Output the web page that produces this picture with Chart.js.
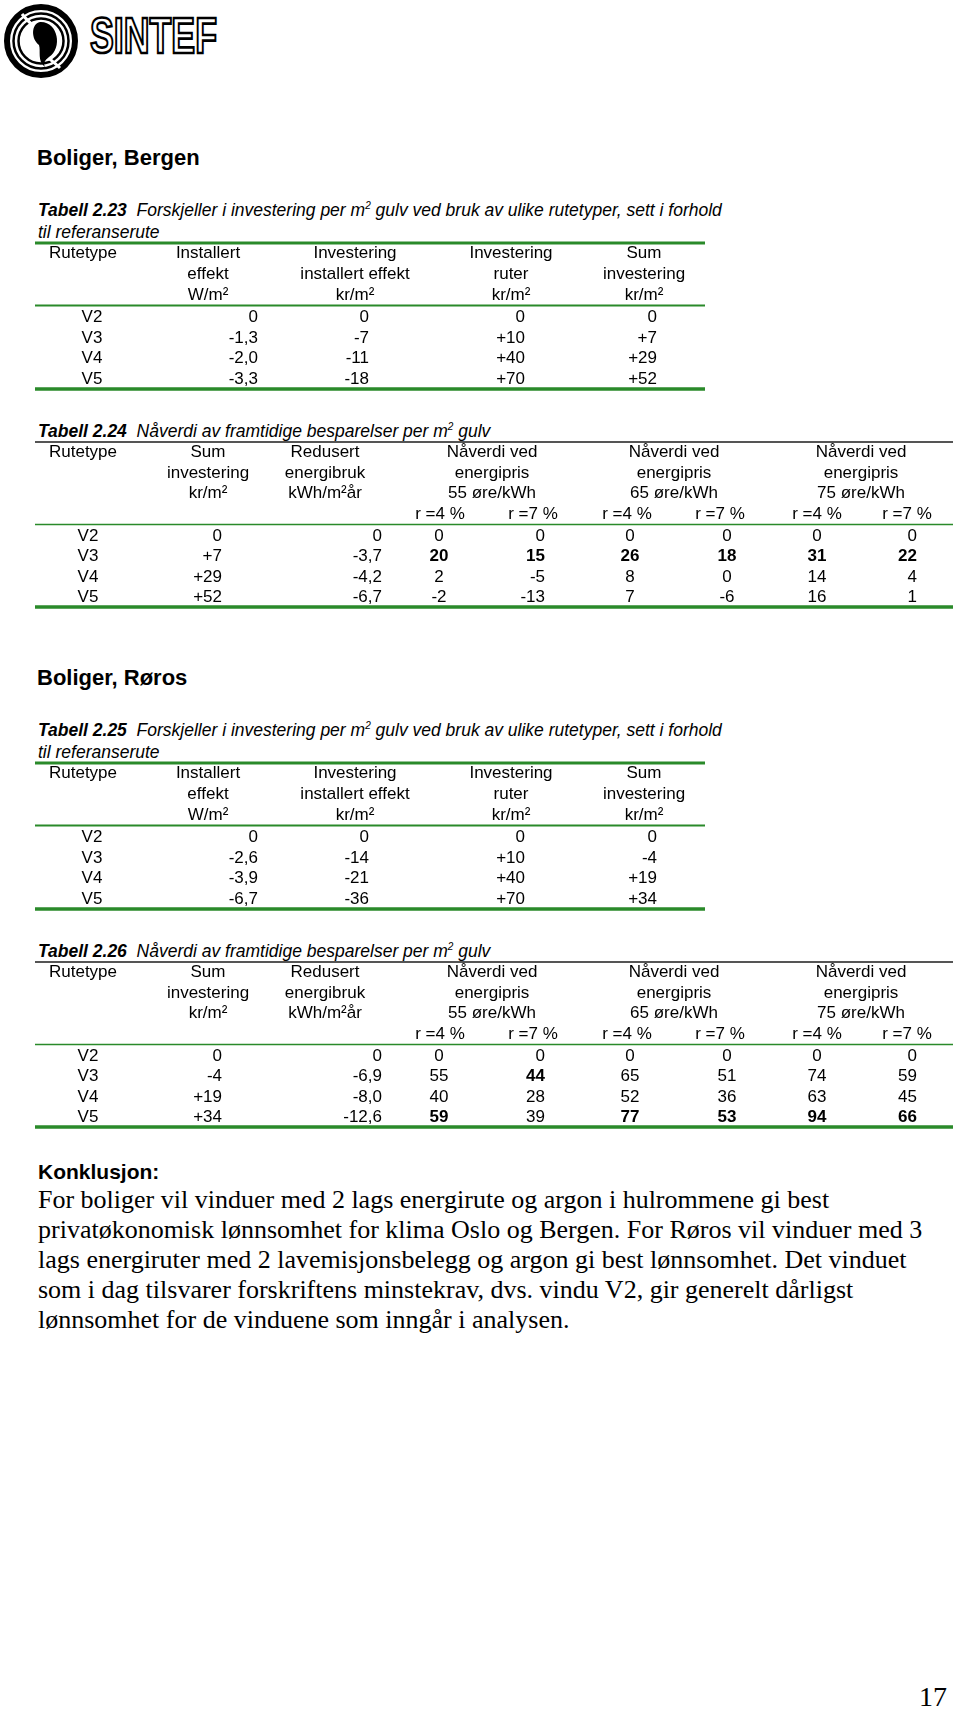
<!DOCTYPE html>
<html>
<head>
<meta charset="utf-8">
<script src="https://cdn.jsdelivr.net/npm/chart.js@4.4.1/dist/chart.umd.min.js"></script>
<style>
  html, body { margin: 0; padding: 0; background: #fff; }
  #page { position: relative; width: 960px; height: 1709px; overflow: hidden; color: #000; }
  .abs { position: absolute; white-space: nowrap; }
  .h { font: bold 22px/1 "Liberation Sans", Arial, sans-serif; left: 37px; }
  .cap { font: italic 17.5px/22px "Liberation Sans", Arial, sans-serif; left: 38px; }
  .cap b { font-weight: bold; }
  sup { font-size: 10px; line-height: 0; vertical-align: 7px; }
  .para { font: 26px/30px "Liberation Serif", "Times New Roman", serif; left: 38px; }
  canvas { position: absolute; left: 0; }
</style>
</head>
<body>
<div id="page">
  <svg class="abs" style="left:0;top:0" width="230" height="85" viewBox="0 0 230 85">
    <circle cx="41" cy="41" r="34" fill="none" stroke="#000" stroke-width="6"/>
    <circle cx="41" cy="41" r="27.5" fill="none" stroke="#000" stroke-width="2.5"/>
    <circle cx="41" cy="41" r="22.5" fill="none" stroke="#000" stroke-width="2.5"/>
    <path d="M22 14 C34 30 48 32 41 41 C34 50 48 56 60 68" fill="none" stroke="#fff" stroke-width="3"/>
    <path d="M40 22 C58 21 63 48 49 57 C45 60 43 63 45 67 C37 61 41 51 39 45 C31 39 31 24 40 22 Z" fill="#000"/>
    <text x="90" y="53" font-family="Liberation Sans, Arial, sans-serif" font-weight="bold" font-size="50"
          textLength="127" lengthAdjust="spacingAndGlyphs" fill="#fff" stroke="#000" stroke-width="2.6">SINTEF</text>
  </svg>

  <div class="abs h" style="top:147px">Boliger, Bergen</div>
  <div class="abs cap" style="top:199px"><b>Tabell 2.23</b>&nbsp; Forskjeller i investering per m<sup>2</sup> gulv ved bruk av ulike rutetyper, sett i forhold<br>til referanserute</div>
  <canvas id="t223" width="960" height="154" style="top:239px"></canvas>

  <div class="abs cap" style="top:420px"><b>Tabell 2.24</b>&nbsp; Nåverdi av framtidige besparelser per m<sup>2</sup> gulv</div>
  <canvas id="t224" width="960" height="173" style="top:438px"></canvas>

  <div class="abs h" style="top:667px">Boliger, Røros</div>
  <div class="abs cap" style="top:719px"><b>Tabell 2.25</b>&nbsp; Forskjeller i investering per m<sup>2</sup> gulv ved bruk av ulike rutetyper, sett i forhold<br>til referanserute</div>
  <canvas id="t225" width="960" height="154" style="top:759px"></canvas>

  <div class="abs cap" style="top:940px"><b>Tabell 2.26</b>&nbsp; Nåverdi av framtidige besparelser per m<sup>2</sup> gulv</div>
  <canvas id="t226" width="960" height="173" style="top:958px"></canvas>

  <div class="abs h" style="top:1161px;left:38px;font-size:21px">Konklusjon:</div>
  <div class="abs para" style="top:1185px">
    <div>For boliger vil vinduer med 2 lags energirute og argon i hulrommene gi best</div>
    <div>privatøkonomisk lønnsomhet for klima Oslo og Bergen. For Røros vil vinduer med 3</div>
    <div>lags energiruter med 2 lavemisjonsbelegg og argon gi best lønnsomhet. Det vinduet</div>
    <div>som i dag tilsvarer forskriftens minstekrav, dvs. vindu V2, gir generelt dårligst</div>
    <div>lønnsomhet for de vinduene som inngår i analysen.</div>
  </div>
  <div class="abs" style="right:13px;top:1683px;font:28px/1 'Liberation Serif', 'Times New Roman', serif">17</div>
</div>

<script>
// Data
const rutetyper = ['V2', 'V3', 'V4', 'V5'];
const prisNivaer = ['55 øre/kWh', '65 øre/kWh', '75 øre/kWh'];
const renter = ['r =4 %', 'r =7 %'];

// Bergen
const bergenEffekt = [0, -1.3, -2.0, -3.3];
const bergenInvEffekt = [0, -7, -11, -18];
const bergenInvRuter = [0, 10, 40, 70];
const bergenSumInv = [0, 7, 29, 52];
const bergenRedusert = [0, -3.7, -4.2, -6.7];
const bergenNv55r4 = [0, 20, 2, -2];
const bergenNv55r7 = [0, 15, -5, -13];
const bergenNv65r4 = [0, 26, 8, 7];
const bergenNv65r7 = [0, 18, 0, -6];
const bergenNv75r4 = [0, 31, 14, 16];
const bergenNv75r7 = [0, 22, 4, 1];

// Røros
const rorosEffekt = [0, -2.6, -3.9, -6.7];
const rorosInvEffekt = [0, -14, -21, -36];
const rorosInvRuter = [0, 10, 40, 70];
const rorosSumInv = [0, -4, 19, 34];
const rorosRedusert = [0, -6.9, -8.0, -12.6];
const rorosNv55r4 = [0, 55, 40, 59];
const rorosNv55r7 = [0, 44, 28, 39];
const rorosNv65r4 = [0, 65, 52, 77];
const rorosNv65r7 = [0, 51, 36, 53];
const rorosNv75r4 = [0, 74, 63, 94];
const rorosNv75r7 = [0, 59, 45, 66];

const GREEN = '#2a8a2a';
const FONT = '17px "Liberation Sans", Arial, sans-serif';

function fmt(v, col) {
  if (typeof v === 'string') return v;
  if (v === 0) return '0';
  let s = col.dec ? v.toFixed(col.dec) : String(v);
  s = s.replace('.', ',');
  if (col.sign && v > 0) s = '+' + s;
  return s;
}

// columns of the investment tables (2.23 / 2.25)
function investSpec(effekt, invEffekt, invRuter, sumInv) {
  return {
    rows: ['h1', 'h2', 'h3'].concat(rutetyper),
    x0: 35, x1: 705,
    cols: [
      { values: rutetyper, vx: 92, align: 'center' },
      { values: effekt, vx: 258, align: 'right', dec: 1 },
      { values: invEffekt, vx: 369, align: 'right' },
      { values: invRuter, vx: 525, align: 'right', sign: true },
      { values: sumInv, vx: 657, align: 'right', sign: true }
    ],
    headers: [
      [83, ['Rutetype']],
      [208, ['Installert', 'effekt', 'W/m²']],
      [355, ['Investering', 'installert effekt', 'kr/m²']],
      [511, ['Investering', 'ruter', 'kr/m²']],
      [644, ['Sum', 'investering', 'kr/m²']]
    ],
    rules: [
      { at: 'top', color: GREEN, width: 3 },
      { after: 2, color: GREEN, width: 2 },
      { at: 'bottom', color: GREEN, width: 3.5 }
    ]
  };
}

// columns of the present value tables (2.24 / 2.26)
function npvSpec(sumInv, redusert, nv) {
  const groupX = [492, 674, 861];
  const rX = [440, 533, 627, 720, 817, 907];
  const vX = [439, 545, 630, 727, 817, 917];
  const vAlign = ['center', 'right', 'center', 'center', 'center', 'right'];
  const headers = [
    [83, ['Rutetype']],
    [208, ['Sum', 'investering', 'kr/m²']],
    [325, ['Redusert', 'energibruk', 'kWh/m²år']]
  ];
  prisNivaer.forEach((p, g) => headers.push([groupX[g], ['Nåverdi ved', 'energipris', p]]));
  const rHeads = rX.map((x, i) => ({ x, row: 3, text: renter[i % 2] }));
  const cols = [
    { values: rutetyper, vx: 88, align: 'center' },
    { values: sumInv, vx: 222, align: 'right', sign: true },
    { values: redusert, vx: 382, align: 'right', dec: 1 }
  ];
  nv.forEach((vals, i) => cols.push({ values: vals, vx: vX[i], align: vAlign[i], markMax: true }));
  return {
    rows: ['h1', 'h2', 'h3', 'h4'].concat(rutetyper),
    x0: 35, x1: 953,
    cols, headers, extraHeads: rHeads,
    rules: [
      { at: 'top', color: '#555', width: 1.8 },
      { after: 3, color: GREEN, width: 1.6 },
      { at: 'bottom', color: GREEN, width: 3.5 }
    ]
  };
}

function tablePlugin(spec) {
  return {
    id: 'tableText',
    afterDatasetsDraw(chart) {
      const { ctx } = chart;
      const x = chart.scales.x, y = chart.scales.y;
      ctx.save();
      ctx.fillStyle = '#000';
      ctx.textBaseline = 'middle';
      ctx.font = FONT;
      ctx.textAlign = 'center';
      spec.headers.forEach(([hx, lines]) => {
        lines.forEach((t, r) => ctx.fillText(t, x.getPixelForValue(hx), y.getPixelForValue(r)));
      });
      (spec.extraHeads || []).forEach(h => ctx.fillText(h.text, x.getPixelForValue(h.x), y.getPixelForValue(h.row)));

      chart.data.datasets.forEach((ds, di) => {
        const col = spec.cols[di];
        const max = col.markMax ? Math.max(...col.values) : null;
        chart.getDatasetMeta(di).data.forEach((pt, i) => {
          const v = col.values[i];
          ctx.font = (max !== null && v === max && v > 0 ? 'bold ' : '') + FONT;
          ctx.textAlign = col.align;
          ctx.fillText(fmt(v, col), pt.x, pt.y + 1);
        });
      });

      const xa = x.getPixelForValue(spec.x0), xb = x.getPixelForValue(spec.x1);
      spec.rules.forEach(r => {
        let py;
        if (r.at === 'top') py = y.top;
        else if (r.at === 'bottom') py = y.bottom;
        else py = (y.getPixelForValue(r.after) + y.getPixelForValue(r.after + 1)) / 2;
        ctx.strokeStyle = r.color;
        ctx.lineWidth = r.width;
        ctx.beginPath();
        ctx.moveTo(xa, py);
        ctx.lineTo(xb, py);
        ctx.stroke();
      });
      ctx.restore();
    }
  };
}

function makeTable(id, spec) {
  new Chart(document.getElementById(id), {
    type: 'scatter',
    data: {
      datasets: spec.cols.map(col => ({
        data: col.values.map((v, i) => ({ x: col.vx, y: rutetyper[i] })),
        pointRadius: 0,
        showLine: false
      }))
    },
    options: {
      responsive: false,
      animation: false,
      events: [],
      layout: { padding: { top: 4, bottom: 4, left: 0, right: 0 } },
      plugins: { legend: { display: false }, tooltip: { enabled: false } },
      scales: {
        x: { type: 'linear', min: 0, max: 960, display: false },
        y: { type: 'category', labels: spec.rows, offset: true, display: false }
      }
    },
    plugins: [tablePlugin(spec)]
  });
}

makeTable('t223', investSpec(bergenEffekt, bergenInvEffekt, bergenInvRuter, bergenSumInv));
makeTable('t224', npvSpec(bergenSumInv, bergenRedusert,
  [bergenNv55r4, bergenNv55r7, bergenNv65r4, bergenNv65r7, bergenNv75r4, bergenNv75r7]));
makeTable('t225', investSpec(rorosEffekt, rorosInvEffekt, rorosInvRuter, rorosSumInv));
makeTable('t226', npvSpec(rorosSumInv, rorosRedusert,
  [rorosNv55r4, rorosNv55r7, rorosNv65r4, rorosNv65r7, rorosNv75r4, rorosNv75r7]));
</script>
</body>
</html>
